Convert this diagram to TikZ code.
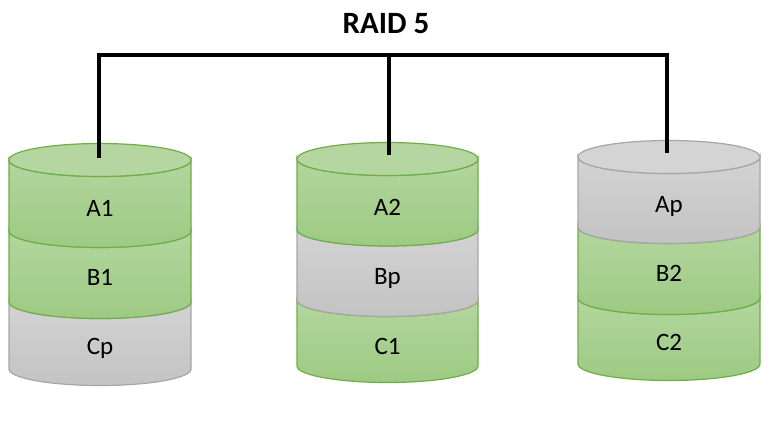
\documentclass[tikz,border=0pt]{standalone}
\usepackage{fontspec}
\setmainfont{Carlito}

\definecolor{verdeborda}{HTML}{70AD47}
\definecolor{verdeclaro}{HTML}{B3D69E}
\definecolor{verdeescuro}{HTML}{9DCA83}
\definecolor{verdetopo}{HTML}{B5D6A1}
\definecolor{cinzaborda}{HTML}{A6A6A6}
\definecolor{cinzaclaro}{HTML}{D3D3D3}
\definecolor{cinzaescuro}{HTML}{C3C3C3}
\definecolor{cinzatopo}{HTML}{D4D4D4}

% faixa de um disco: estilo, centro x, raio x, topo, base
\newcommand{\faixa}[5]{%
  \draw[#1] ({#2-#3},#4) arc[start angle=180, end angle=0, x radius=#3, y radius=16.5]
    -- ({#2+#3},#5) arc[start angle=0, end angle=180, x radius=#3, y radius=16.5] -- cycle;}

\tikzset{
  faixaverde/.style={draw=verdeborda, line width=1.2pt, top color=verdeclaro, bottom color=verdeescuro},
  faixacinza/.style={draw=cinzaborda, line width=1.2pt, top color=cinzaclaro, bottom color=cinzaescuro},
  topoverde/.style={draw=verdeborda, line width=1.2pt, fill=verdetopo},
  topocinza/.style={draw=cinzaborda, line width=1.2pt, fill=cinzatopo},
  rotulo/.style={anchor=base, font=\fontsize{25}{30}\selectfont},
  titulo/.style={anchor=base, font=\fontsize{31}{36}\selectfont\bfseries},
  barra/.style={line width=4.3pt, line join=miter}
}

\begin{document}
\begin{tikzpicture}
  [x=1pt, y=-1pt]
  \useasboundingbox (0,0) rectangle (771,423);

  % Primeiro disco
  \faixa{faixacinza}{100}{91}{302}{369}
  \faixa{faixaverde}{100}{91}{231}{302}
  \faixa{faixaverde}{100}{91}{160}{231}
  \draw[topoverde] (100,160) ellipse[x radius=91, y radius=16.5];

  % Segundo disco
  \faixa{faixaverde}{387.5}{90.5}{300}{366}
  \faixa{faixacinza}{387.5}{90.5}{229.5}{300}
  \faixa{faixaverde}{387.5}{90.5}{159}{229.5}
  \draw[topoverde] (387.5,159) ellipse[x radius=90.5, y radius=16.5];

  % Terceiro disco
  \faixa{faixaverde}{669}{91}{298}{364}
  \faixa{faixaverde}{669}{91}{227}{298}
  \faixa{faixacinza}{669}{91}{157}{227}
  \draw[topocinza] (669,157) ellipse[x radius=91, y radius=16.5];

  % Titulo
  \node[titulo] (raid) at (386,33) {RAID 5};

  % Pontos de ligacao
  \coordinate (c1) at (99,55);
  \coordinate (c2) at (389,55);
  \coordinate (c3) at (667,55);
  \coordinate (d1) at (99,158);
  \coordinate (d2) at (389,155);
  \coordinate (d3) at (667,153);

  % Ligando o barramento aos discos
  \draw[barra] (d1) -- (c1) -- (c3) -- (d3);
  \draw[barra] (c2) -- (d2);

  % Blocos de cada disco
  \node[rotulo] (a1) at (100,216) {A1};
  \node[rotulo] (b1) at (100,285) {B1};
  \node[rotulo] (cp) at (100,354) {Cp};

  \node[rotulo] (a2) at (387.5,215) {A2};
  \node[rotulo] (bp) at (387.5,284) {Bp};
  \node[rotulo] (c1t) at (387.5,354) {C1};

  \node[rotulo] (ap) at (669,212) {Ap};
  \node[rotulo] (b2) at (669,281) {B2};
  \node[rotulo] (c2t) at (669,350) {C2};
\end{tikzpicture}
\end{document}
